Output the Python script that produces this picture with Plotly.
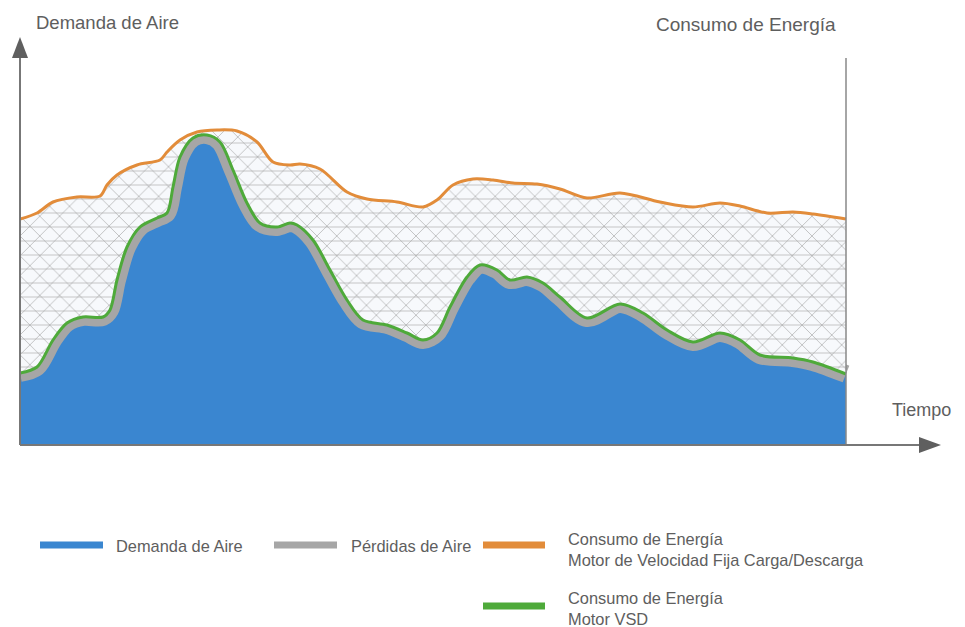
import plotly.graph_objects as go

# ---- data (time units, arbitrary demand/energy units) ----
tiempo_fija = [0, 17, 33, 57, 80, 87, 97, 117, 140, 147, 160, 177, 197, 217, 237, 253, 270, 280,
               300, 327, 347, 377, 403, 417, 433, 453, 473, 493, 517, 540, 567, 600, 640, 673,
               700, 720, 747, 773, 793, 826]
energia_fija = [226, 232, 243, 248, 249, 260, 270, 280, 285, 293, 305, 313, 315, 314, 303, 283, 280, 281,
                276, 253, 246, 243, 238, 245, 260, 266, 265, 262, 261, 256, 247, 252, 243, 238,
                242, 239, 232, 233, 231, 226]

tiempo_vsd = [0, 17, 33, 47, 63, 83, 90, 97, 107, 120, 137, 147, 153, 160, 173, 187, 200, 213, 227,
              240, 257, 270, 277, 293, 310, 327, 343, 367, 387, 403, 417, 430, 447, 460, 477, 490,
              507, 523, 540, 567, 600, 623, 647, 673, 700, 720, 740, 773, 793, 826]
energia_vsd = [72, 78, 105, 122, 128, 128, 135, 165, 198, 218, 227, 232, 258, 288, 307, 310, 303, 275, 242,
               222, 218, 222, 220, 205, 175, 145, 125, 120, 112, 105, 112, 138, 168, 180, 175, 165,
               168, 162, 148, 127, 141, 132, 115, 103, 112, 105, 90, 87, 83, 71]

leyenda = ["Demanda de Aire", "Pérdidas de Aire",
           "Consumo de Energía<br>Motor de Velocidad Fija Carga/Descarga",
           "Consumo de Energía<br>Motor VSD"]

AZUL = "rgb(58,134,208)"
GRIS = "rgb(166,166,166)"
NARANJA = "rgb(226,140,58)"
VERDE = "rgb(78,170,58)"
TEXTO = "#5e5e5e"
EJE = "#777777"
FONT = "Liberation Sans, Arial, sans-serif"

W, H = 965, 627
L, R, T, B = 20, 25, 38, 182
PW, PH = W - L - R, H - T - B


def px(xp):
    return (xp - L) / PW


def py(yp):
    return (H - B - yp) / PH


fig = go.Figure()
spline = dict(shape="spline", smoothing=0.9)


def linea(x, y, width, color, **kw):
    fig.add_trace(go.Scatter(x=x, y=y, mode="lines", line=dict(width=width, color=color, **spline),
                             hoverinfo="skip", showlegend=False, **kw))


# blue demand area
linea(tiempo_vsd, energia_vsd, 0, AZUL, fill="tozeroy", fillcolor=AZUL)
# grey losses band (thick stroke; its upper half is hidden by the hatch)
linea(tiempo_vsd, energia_vsd, 18, GRIS)
# hatched zone between VSD and fixed-speed consumption
linea(tiempo_vsd, energia_vsd, 0, GRIS)
linea(tiempo_fija, energia_fija, 0, NARANJA, fill="tonexty", fillcolor="#f7f9fc",
      fillpattern=dict(shape="x", size=14, solidity=0.09, fgcolor="#a5a5a5",
                       bgcolor="#f7f9fc", fillmode="replace"))
linea(tiempo_vsd, energia_vsd, 0, GRIS)
linea(tiempo_fija, energia_fija, 0, NARANJA, fill="tonexty", fillcolor="rgba(0,0,0,0)",
      fillpattern=dict(shape="-", size=14, solidity=0.09, fgcolor="#a5a5a5", fillmode="overlay"))
# white above the fixed-speed curve (top of the axis range)
linea([tiempo_fija[0], tiempo_fija[-1]], [PH, PH], 0, "white")
linea(tiempo_fija, energia_fija, 0, "white", fill="tonexty", fillcolor="white")
# curves
linea(tiempo_vsd, energia_vsd, 3, VERDE)
linea(tiempo_fija, energia_fija, 3, NARANJA)

shapes = []
# axes
shapes.append(dict(type="line", xref="paper", yref="paper", x0=px(20), y0=py(445), x1=px(20), y1=py(55),
                   line=dict(color=EJE, width=2)))
shapes.append(dict(type="path", xref="paper", yref="paper",
                   path=f"M {px(20)} {py(37)} L {px(12)} {py(58)} L {px(28)} {py(58)} Z",
                   fillcolor="#5f5f5f", line=dict(width=0)))
shapes.append(dict(type="line", xref="paper", yref="paper", x0=px(846), y0=py(445), x1=px(846), y1=py(58),
                   line=dict(color="#888888", width=1.5)))
shapes.append(dict(type="line", xref="paper", yref="paper", x0=px(20), y0=py(445), x1=px(922), y1=py(445),
                   line=dict(color=EJE, width=2)))
shapes.append(dict(type="path", xref="paper", yref="paper",
                   path=f"M {px(941)} {py(445)} L {px(919)} {py(437)} L {px(919)} {py(453)} Z",
                   fillcolor="#5f5f5f", line=dict(width=0)))

# legend swatches
for (x0, x1, y, c) in [(40, 103, 545, AZUL), (274, 337, 545, GRIS), (483, 545, 545, NARANJA),
                       (483, 545, 606, VERDE)]:
    shapes.append(dict(type="line", xref="paper", yref="paper", x0=px(x0), x1=px(x1), y0=py(y), y1=py(y),
                       line=dict(color=c, width=7)))

annotations = []


def txt(t, x, y, size):
    annotations.append(dict(text=t, xref="paper", yref="paper", x=px(x), y=py(y), showarrow=False,
                            xanchor="left", yanchor="middle", align="left",
                            font=dict(family=FONT, size=size, color=TEXTO)))


txt("Demanda de Aire", 34, 23, 18.5)
txt("Consumo de Energía", 654, 25, 19)
txt("Tiempo", 890, 410, 18)
txt(leyenda[0], 114, 546, 16.4)
txt(leyenda[1], 349, 546, 16.4)
txt(leyenda[2], 566, 549, 16.4)
txt(leyenda[3], 566, 608, 16.4)

fig.update_layout(
    width=W, height=H, margin=dict(l=L, r=R, t=T, b=B),
    paper_bgcolor="white", plot_bgcolor="white",
    xaxis=dict(range=[0, PW], visible=False, fixedrange=True),
    yaxis=dict(range=[0, PH], visible=False, fixedrange=True),
    shapes=shapes, annotations=annotations, showlegend=False,
)

fig.write_html("out.html", config={"displayModeBar": False},
               post_script="document.body.style.margin='0';document.body.style.overflow='hidden';")
